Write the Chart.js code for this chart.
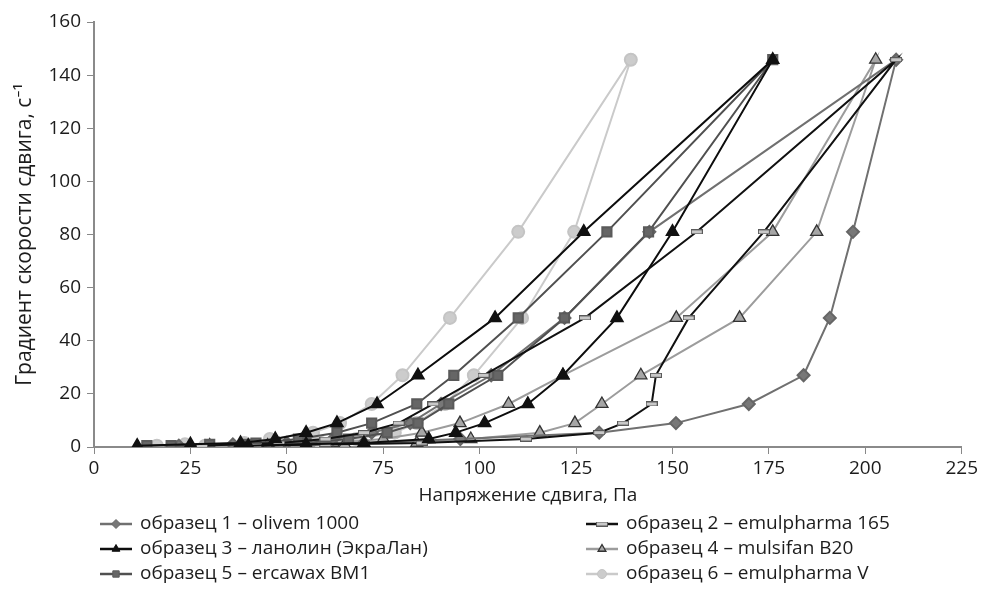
<!DOCTYPE html>
<html>
<head>
<meta charset="utf-8">
<script src="https://cdn.jsdelivr.net/npm/chart.js"></script>
<style>
  body { margin: 0; background: #fff; }
  #wrap { width: 981px; height: 599px; }
</style>
</head>
<body>
<div id="wrap"><canvas id="flowChart" width="981" height="599"></canvas></div>
<script>
// shear rates (y), same for every sample
const rates = [0.5, 1, 1.5, 3, 5.4, 9, 16.2, 27, 48.6, 81, 145.8];

// shear stress (x) for the rising and falling branch, one value per rate
const s1Up   = [40, 55, 70, 95, 131, 150.9, 169.8, 184, 190.8, 196.8, 208];
const s1Down = [22, 36, 50, 62, 72, 82, 90, 103, 122, 144, 208];
const s2Up   = [42, 60, 85, 112, 131, 137.2, 144.6, 145.7, 154.2, 173.7, 208];
const s2Down = [28, 38, 48, 60, 70, 79, 88, 101, 127.3, 156.3, 208];
const s3Up   = [40, 55, 70, 86.8, 93.8, 101.3, 112.5, 121.6, 135.6, 150, 176];
const s3Down = [11.2, 25, 38, 47, 55, 63, 73.4, 84, 104, 127, 176];
const s4Up   = [45, 65, 83.7, 97.7, 115.6, 124.7, 131.7, 141.8, 167.4, 187.4, 202.7];
const s4Down = [30, 48, 62, 75, 85, 94.9, 107.5, 121.6, 151, 176, 202.7];
const s5Up   = [20, 40, 55, 66, 76, 84, 92, 104.7, 122, 143.8, 176];
const s5Down = [13.7, 30, 42, 53, 63, 72, 83.7, 93.3, 110, 133, 176];
const s6Up   = [28.8, 46, 58.9, 68, 78, 83.7, 91, 98.5, 111, 124.5, 139.2];
const s6Down = [16.3, 23.6, 39, 45.6, 56.8, 63.8, 72, 80, 92.3, 110, 139.2];

const names = [
    'образец 1 – olivem 1000',
    'образец 2 – emulpharma 165',
    'образец 3 – ланолин (ЭкраЛан)',
    'образец 4 – mulsifan B20',
    'образец 5 – ercawax BM1',
    'образец 6 – emulpharma V'
];

// up the curve, then back down (top point only once)
function loop(up, down) {
    const pts = up.map((x, i) => ({ x: x, y: rates[i] }));
    for (let i = down.length - 2; i >= 0; i--) pts.push({ x: down[i], y: rates[i] });
    return pts;
}

// little oblong marker for sample 2
const dash = document.createElement('canvas');
dash.width = 12; dash.height = 5;
const dctx = dash.getContext('2d');
dctx.fillStyle = '#c8c8c8';
dctx.strokeStyle = '#5a5a5a';
dctx.lineWidth = 1;
dctx.fillRect(0.5, 0.5, 11, 4);
dctx.strokeRect(0.5, 0.5, 11, 4);

const FONT = '"Open Sans", "Noto Sans", sans-serif';
const TXT = '#1c1c1c';

const datasets = [
    { label: names[0], data: loop(s1Up, s1Down), borderColor: '#707070', borderWidth: 2,
      pointStyle: 'rectRot', pointRadius: 6, pointBackgroundColor: '#787878', pointBorderColor: '#666', order: 4 },
    { label: names[1], data: loop(s2Up, s2Down), borderColor: '#111', borderWidth: 2,
      pointStyle: dash, pointRadius: 6, order: 2 },
    { label: names[2], data: loop(s3Up, s3Down), borderColor: '#0d0d0d', borderWidth: 2,
      pointStyle: 'triangle', pointRadius: 6.5, pointBackgroundColor: '#111', pointBorderColor: '#111', order: 1 },
    { label: names[3], data: loop(s4Up, s4Down), borderColor: '#9c9c9c', borderWidth: 2,
      pointStyle: 'triangle', pointRadius: 7, pointBackgroundColor: '#a6a6a6', pointBorderColor: '#333', pointBorderWidth: 1.3, order: 5 },
    { label: names[4], data: loop(s5Up, s5Down), borderColor: '#505050', borderWidth: 2,
      pointStyle: 'rect', pointRadius: 6.5, pointBackgroundColor: '#666', pointBorderColor: '#5a5a5a', order: 3 },
    { label: names[5], data: loop(s6Up, s6Down), borderColor: '#cacaca', borderWidth: 2,
      pointStyle: 'circle', pointRadius: 6, pointBackgroundColor: '#cccccc', pointBorderColor: '#c4c4c4', order: 6 }
];

// two column legend under the x axis title
const legendPlugin = {
    id: 'twoColLegend',
    afterDraw(chart) {
        const ctx = chart.ctx;
        const cols = [100, 586];
        const rows = [524, 549, 574];
        ctx.save();
        datasets.forEach((ds, i) => {
            const x = cols[i % 2];
            const y = rows[Math.floor(i / 2)];
            ctx.strokeStyle = ds.borderColor;
            ctx.lineWidth = 2.5;
            ctx.beginPath();
            ctx.moveTo(x, y); ctx.lineTo(x + 32, y);
            ctx.stroke();
            ctx.fillStyle = ds.pointBackgroundColor || '#999';
            ctx.strokeStyle = ds.pointBorderColor || ds.borderColor;
            ctx.lineWidth = ds.pointBorderWidth || 1;
            Chart.helpers.drawPoint(ctx, {
                pointStyle: ds.pointStyle, radius: 4.5, borderWidth: ctx.lineWidth, rotation: 0
            }, x + 16, y);
            ctx.fillStyle = TXT;
            ctx.font = '19px ' + FONT;
            ctx.textBaseline = 'middle';
            ctx.fillText(ds.label, x + 40, y);
        });
        ctx.restore();
    }
};

new Chart(document.getElementById('flowChart'), {
    type: 'scatter',
    data: { datasets: datasets },
    plugins: [legendPlugin],
    options: {
        responsive: false,
        animation: false,
        layout: { padding: { top: 22, right: 19, bottom: 88, left: 8 } },
        elements: { line: { tension: 0 } },
        datasets: { scatter: { showLine: true } },
        plugins: { legend: { display: false }, tooltip: { enabled: false } },
        scales: {
            x: {
                min: 0, max: 225,
                afterFit(scale) { scale.height = 64; },
                ticks: { stepSize: 25, color: TXT, font: { family: FONT, size: 19 }, padding: 3 },
                grid: { drawOnChartArea: false, drawTicks: true, tickLength: 7, color: '#888' },
                border: { color: '#8a8a8a', width: 2 },
                title: { display: true, text: 'Напряжение сдвига, Па', color: TXT,
                         font: { family: FONT, size: 19 }, padding: { top: 3 } }
            },
            y: {
                min: 0, max: 160,
                afterFit(scale) { scale.width = 86; },
                ticks: { stepSize: 20, color: TXT, font: { family: FONT, size: 19 }, padding: 6 },
                grid: { drawOnChartArea: false, drawTicks: true, tickLength: 7, color: '#888' },
                border: { color: '#8a8a8a', width: 2 },
                title: { display: true, text: 'Градиент скорости сдвига, с⁻¹', color: TXT,
                         font: { family: FONT, size: 21 }, padding: { bottom: 0 } }
            }
        }
    }
});
</script>
</body>
</html>
